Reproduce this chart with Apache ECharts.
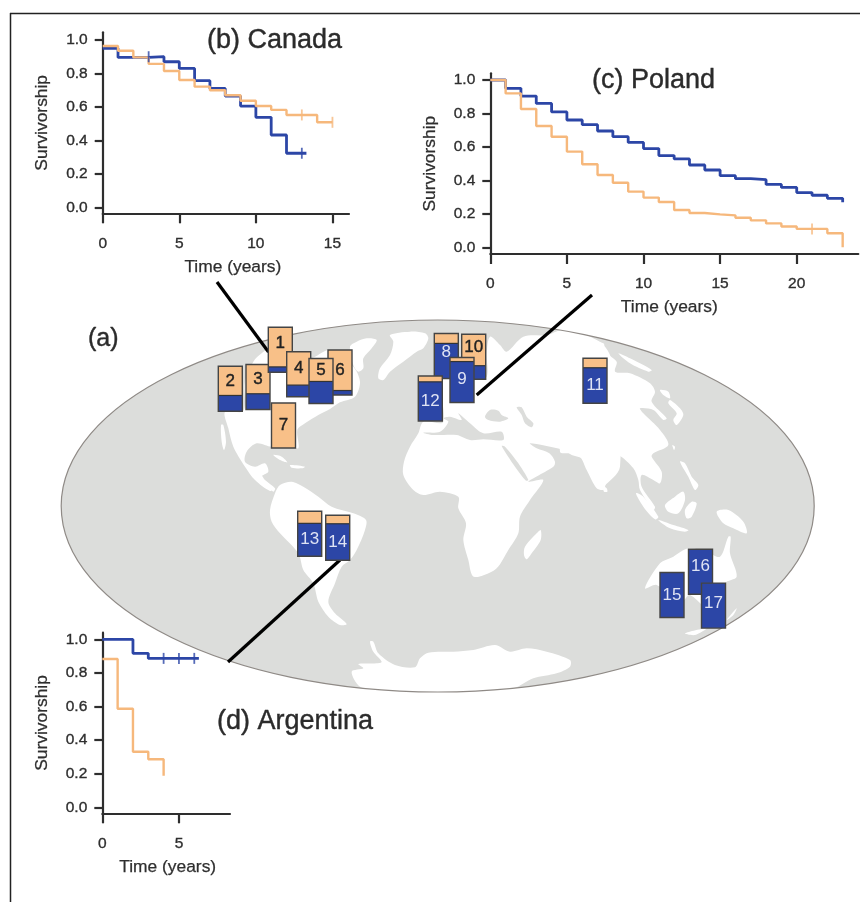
<!DOCTYPE html>
<html><head><meta charset="utf-8">
<script src="https://cdn.jsdelivr.net/npm/echarts@6/dist/echarts.min.js"></script>
<style>html,body{margin:0;padding:0;background:#fff}#c{width:860px;height:902px}</style>
</head><body><div id="c"></div>
<script>
// ---- Survivorship data (time in years, survivorship) ----
const canadaBlue = [[0,.95],[1,.896],[2,.896],[3,.90],[4,.87],[5,.83],[6,.757],[7,.71],[8,.665],[9,.605],[10,.538],[11,.432],[12,.323],[13.3,.323]];
const canadaOrange = [[0,.964],[1,.936],[2,.896],[3,.857],[4,.815],[5,.761],[6,.721],[7,.70],[8,.67],[9,.637],[10,.605],[11,.582],[12,.552],[13,.552],[14,.508],[15,.508]];
const canadaBlueCensor = [[3,.90],[13,.323]];
const canadaOrangeCensor = [[13,.552],[15,.508]];

const polandBlue = [[0,1],[1,.95],[2,.904],[3,.86],[4,.809],[5,.761],[6,.733],[7,.695],[8,.661],[9,.627],[10,.59],[11,.548],[12,.528],[13,.492],[14,.462],[15,.428],[16,.41],[17,.404],[18,.376],[19,.358],[20,.327],[21,.311],[22,.293],[23,.283],[23,.27]];
const polandOrange = [[0,1],[1,.92],[2,.827],[3,.725],[4,.661],[5,.572],[6,.496],[7,.432],[8,.386],[9,.333],[10,.297],[11,.271],[12,.223],[13,.205],[14,.197],[15,.191],[16,.177],[17,.161],[18,.143],[19,.124],[20,.11],[21,.11],[22,.084],[23,.084],[23,0]];
const polandOrangeCensor = [[21,.11]];

const argentinaBlue = [[0,1],[1,1],[2,.917],[3,.887],[6.3,.887]];
const argentinaOrange = [[0,.883],[1,.587],[2,.331],[3,.286],[4,.286],[4,.187]];
const argentinaBlueCensor = [[4,.887],[5,.887],[6,.887]];

// ---- Sites on the map (listed in drawing order) ----
const siteLabels = ['2','3','1','7','4','6','5','8','10','12','9','11','13','14','15','16','17'];
const siteX = [230.3,258,280.3,283.5,298.7,340,321,446.3,473.7,430.3,462,595,309.7,337.7,672,700.5,713.5];
const siteY = [388.7,387,349.8,425.5,374.3,372.5,381,356,356.7,398.5,380,380.8,533.7,537.7,595,571.8,605.6];
const siteBlueShare = [.35,.35,.12,0,.26,.10,.49,.78,.30,.87,.91,.79,.73,.81,1,1,1];

// ---- Tick labels ----
const yTicks = [0,.2,.4,.6,.8,1];
const canadaXTicks = [0,5,10,15];
const polandXTicks = [0,5,10,15,20];
const argentinaXTicks = [0,5];

// ---- Map outlines (background decoration, in crop coordinates) ----
const land = [
 [190,315,[[190,140],[215,115],[240,100],[300,110],[360,130],[420,105],[490,155],[510,200],[495,245],[450,262],[420,282],[385,300],[345,325],[322,345],[325,400],[290,385],[245,395],[200,385],[170,410],[165,440],[195,455],[225,445],[235,470],[215,485],[250,520],[240,528],[195,495],[165,455],[130,395],[115,340],[105,290],[160,288],[165,200]]],
 [190,315,[[93,330],[100,330],[108,380],[102,405],[95,380]]],
 [190,315,[[480,95],[500,80],[530,70],[560,75],[545,100],[520,130],[520,160],[505,170],[490,150]]],
 [190,315,[[565,190],[570,160],[600,120],[610,80],[600,60],[660,50],[705,55],[715,70],[700,100],[680,110],[640,140],[600,170],[580,195]]],
 [190,315,[[250,420],[275,425],[292,442],[270,435]]],
 [190,315,[[300,450],[345,455],[335,460],[305,458]]],
 [260,470,[[30,120],[45,70],[60,45],[95,35],[130,50],[175,80],[215,110],[280,130],[318,150],[315,180],[290,240],[270,270],[245,290],[225,340],[205,395],[225,430],[260,462],[240,465],[205,440],[175,395],[160,340],[130,300],[115,250],[60,190],[35,155]]],
 [260,470,[[0,10],[15,30],[45,55],[40,65],[20,45],[0,25]]],
 [340,640,[[90,5],[100,5],[115,40],[165,75],[225,82],[240,55],[265,38],[340,35],[400,30],[465,15],[510,35],[560,25],[620,35],[690,60],[690,80],[650,100],[580,115],[520,145],[400,155],[250,158],[120,150],[60,140],[35,95],[70,85],[55,72],[110,70],[125,65],[100,35]]],
 [390,320,[[150,150],[160,305],[100,305],[85,340],[60,380],[42,425],[40,465],[70,510],[100,525],[150,515],[205,530],[205,565],[228,610],[220,660],[235,720],[248,768],[275,768],[320,745],[355,690],[385,640],[390,590],[420,540],[460,480],[415,485],[490,440],[495,425],[478,400],[440,385],[420,370],[520,390],[545,405],[575,415],[590,440],[625,505],[640,500],[690,440],[675,160],[640,75],[520,30],[470,45],[400,50],[350,95],[330,75],[300,50],[290,100],[290,170],[250,170]]],
 [390,320,[[440,640],[452,630],[452,660],[425,700],[410,718],[402,705],[405,680]]],
 [560,320,[[0,30],[130,70],[135,95],[170,125],[165,155],[210,160],[270,190],[285,215],[275,245],[320,295],[310,300],[280,270],[240,265],[250,280],[300,330],[325,375],[280,400],[275,410],[305,455],[300,490],[280,480],[245,465],[245,500],[285,560],[280,570],[240,510],[235,480],[220,445],[175,405],[160,420],[135,500],[130,510],[110,505],[80,450],[60,410],[30,400],[0,395]]],
 [560,320,[[175,100],[210,115],[275,150],[265,155],[210,130]]],
 [560,320,[[330,240],[360,265],[370,285],[350,315],[340,300],[350,280],[325,250]]],
 [560,320,[[300,210],[325,215],[330,235],[310,225]]],
 [560,320,[[315,555],[345,530],[370,515],[375,540],[355,580],[325,575]]],
 [560,320,[[228,520],[250,530],[295,590],[285,598],[250,560]]],
 [560,320,[[295,600],[340,615],[385,630],[375,635],[330,625]]],
 [560,320,[[360,425],[375,430],[395,470],[415,495],[405,510],[385,470]]],
 [560,320,[[375,570],[395,545],[410,550],[395,590],[380,595]]],
 [560,320,[[470,575],[505,570],[550,605],[560,640],[520,625],[490,610]]],
 [560,320,[[337,375],[345,380],[342,390]]],
 [560,320,[[130,500],[140,505],[142,515],[132,515]]],
 [640,520,[[15,205],[60,130],[100,110],[145,85],[200,95],[240,110],[265,50],[272,50],[270,100],[290,170],[255,190],[240,300],[150,225],[120,250],[50,195]]],
 [640,520,[[135,340],[200,325],[165,345]]],
 [640,520,[[260,300],[290,265],[280,285]]]
];
const seas = [
 [390,320,[[335,378],[345,380],[385,430],[415,480],[408,482],[375,440]]],
 [390,320,[[100,338],[150,335],[175,305],[160,295],[180,290],[215,300],[205,280],[240,310],[280,340],[335,335],[340,360],[280,358],[240,360],[200,345],[130,345]]],
 [390,320,[[285,290],[300,270],[325,272],[335,285],[355,295],[330,305],[295,300]]],
 [390,320,[[380,262],[395,262],[410,290],[430,310],[425,322],[405,310],[395,285]]]
];

const BLUE='#2c46a6', ORANGE='#f8c088', TXT='#2e2e2e', LINE_ORANGE='#f6b87c';
const FONT='Liberation Sans';
const toPage = (o)=>o[2].map(p=>[o[0]+p[0]/3,o[1]+p[1]/3]);

function panel(i,left,right,top,bottom,xMax,yMin,yMax,xTicks,namePad){
  const labelStyle={margin:22,fontSize:15.5,fontFamily:FONT,color:TXT,textBorderColor:TXT,textBorderWidth:0.35};
  const nameStyle={fontSize:17.4,fontFamily:FONT,color:TXT,textBorderColor:TXT,textBorderWidth:0.25};
  return {
    grid:{left,top,width:right-left,height:bottom-top,containLabel:false},
    xAxis:{gridIndex:i,type:'value',min:0,max:xMax,splitLine:{show:false},
      axisLine:{onZero:false,lineStyle:{color:TXT,width:2.2}},
      axisTick:{customValues:xTicks,length:10,lineStyle:{color:TXT,width:2.2}},
      axisLabel:{...labelStyle,customValues:xTicks},
      name:'Time (years)',nameLocation:'middle',nameGap:45,
      nameTextStyle:{...nameStyle,padding:namePad}},
    yAxis:{gridIndex:i,type:'value',min:yMin,max:yMax,splitLine:{show:false},
      axisLine:{onZero:false,lineStyle:{color:TXT,width:2.2}},
      axisTick:{customValues:yTicks,length:8,lineStyle:{color:TXT,width:2.2}},
      axisLabel:{...labelStyle,margin:15,customValues:yTicks,formatter:v=>v.toFixed(1)},
      name:'Survivorship',nameLocation:'middle',nameGap:52,
      nameTextStyle:nameStyle}
  };
}
const panels=[
  panel(0,102.7,349,32.3,213.3,16.08,-0.036,1.046,canadaXTicks,[0,0,0,14]),
  panel(1,490.3,858.3,73.3,254,24.02,-0.04,1.04,polandXTicks,[0,10,0,0]),
  panel(2,102.3,230,632.7,813.3,8.33,-0.036,1.04,argentinaXTicks,[0,0,0,3])
];
function stepLine(i,data,color,w){
  return {type:'line',xAxisIndex:i,yAxisIndex:i,data,step:'end',showSymbol:false,symbol:'none',
    lineStyle:{color,width:w},silent:true,z:2};
}
function censor(i,data,color){
  return {type:'scatter',xAxisIndex:i,yAxisIndex:i,data,symbol:'rect',symbolSize:[1.8,11],
    itemStyle:{color},silent:true,z:3};
}
const siteData = siteLabels.map((l,k)=>[siteX[k],siteY[k],siteBlueShare[k],l]);
const BAR_W=24, BAR_H=45;
const labelNudge={ '1':-4,'8':-9,'10':-3,'9':-3,'16':-5,'17':-2 };
function renderSite(params,api){
  const c=api.coord([api.value(0),api.value(1)]);
  const s=api.size([BAR_W,BAR_H]);
  const share=api.value(2), label=siteLabels[params.dataIndex];
  const x=c[0]-s[0]/2,y=c[1]-s[1]/2,h=s[1],bh=h*share;
  const kids=[
    {type:'rect',shape:{x,y,width:s[0],height:h-bh},style:{fill:ORANGE}},
    {type:'rect',shape:{x,y:y+h-bh,width:s[0],height:bh},style:{fill:BLUE}}
  ];
  if(share>0&&share<1) kids.push({type:'line',shape:{x1:x,y1:y+h-bh,x2:x+s[0],y2:y+h-bh},style:{stroke:'#333',lineWidth:1.2}});
  kids.push({type:'rect',shape:{x,y,width:s[0],height:h},style:{fill:'none',stroke:'#444',lineWidth:1.4}});
  const onBlue=share>=.5;
  const ty=(onBlue? y+h-bh/2 : y+(h-bh)/2)+(labelNudge[label]||0);
  const col=onBlue?'#dfe3f4':'#222';
  kids.push({type:'text',style:{text:label,x:c[0],y:ty,align:'center',verticalAlign:'middle',
    fill:col,stroke:onBlue?null:col,lineWidth:onBlue?0:0.4,font:'17px "Liberation Sans"'}});
  return {type:'group',children:kids};
}
const graphics=[
  {type:'ellipse',shape:{cx:437.7,cy:506,rx:376.5,ry:186},style:{fill:'#dcdddb'},z:0},
  ...land.map(o=>({type:'polygon',shape:{points:toPage(o),smooth:0.3},style:{fill:'#fff'},z:0})),
  ...seas.map(o=>({type:'polygon',shape:{points:toPage(o),smooth:0.3},style:{fill:'#dcdddb'},z:0})),
  {type:'ellipse',shape:{cx:437.7,cy:506,rx:376.5,ry:186},style:{fill:'none',stroke:'#8f8a86',lineWidth:1.2},z:0},
  {type:'line',shape:{x1:217,y1:282,x2:268.5,y2:352},style:{stroke:'#000',lineWidth:3.2},z:0},
  {type:'line',shape:{x1:592,y1:295,x2:476.7,y2:395},style:{stroke:'#000',lineWidth:3.2},z:0},
  {type:'line',shape:{x1:340,y1:560,x2:228,y2:662},style:{stroke:'#000',lineWidth:3.2},z:0},
  {type:'line',shape:{x1:10,y1:13.5,x2:860,y2:13.5},style:{stroke:'#222',lineWidth:1.5},z:0},
  {type:'line',shape:{x1:10.5,y1:13,x2:10.5,y2:902},style:{stroke:'#222',lineWidth:1.5},z:0}
];
const tFont={fontSize:27,fontWeight:400,fontFamily:FONT,color:'#2b2b2b',textBorderColor:'#2b2b2b',textBorderWidth:0.4};
const option={
  animation:false,backgroundColor:'#fff',
  title:[
    {text:'(a)',left:88,top:326.5,padding:0,textStyle:{...tFont,fontSize:25}},
    {text:'(b) Canada',left:207,top:27.5,padding:0,textStyle:tFont},
    {text:'(c) Poland',left:592,top:67.5,padding:0,textStyle:tFont},
    {text:'(d) Argentina',left:217,top:708.5,padding:0,textStyle:tFont}
  ],
  grid:[...panels.map(p=>p.grid),{left:0,top:0,width:860,height:902}],
  xAxis:[...panels.map(p=>p.xAxis),{gridIndex:3,type:'value',min:0,max:860,show:false}],
  yAxis:[...panels.map(p=>p.yAxis),{gridIndex:3,type:'value',min:0,max:902,inverse:true,show:false}],
  graphic:{elements:graphics},
  series:[
    stepLine(0,canadaBlue,BLUE,2.8),stepLine(0,canadaOrange,LINE_ORANGE,2.4),censor(0,canadaBlueCensor,BLUE),censor(0,canadaOrangeCensor,LINE_ORANGE),
    stepLine(1,polandBlue,BLUE,2.8),stepLine(1,polandOrange,LINE_ORANGE,2.4),censor(1,polandOrangeCensor,LINE_ORANGE),
    stepLine(2,argentinaBlue,BLUE,2.8),stepLine(2,argentinaOrange,LINE_ORANGE,2.4),censor(2,argentinaBlueCensor,BLUE),
    {type:'custom',xAxisIndex:3,yAxisIndex:3,data:siteData,renderItem:renderSite,silent:true,z:5,clip:false}
  ]
};
const chart=echarts.init(document.getElementById('c'),null,{renderer:'canvas'});
chart.setOption(option);
</script></body></html>
